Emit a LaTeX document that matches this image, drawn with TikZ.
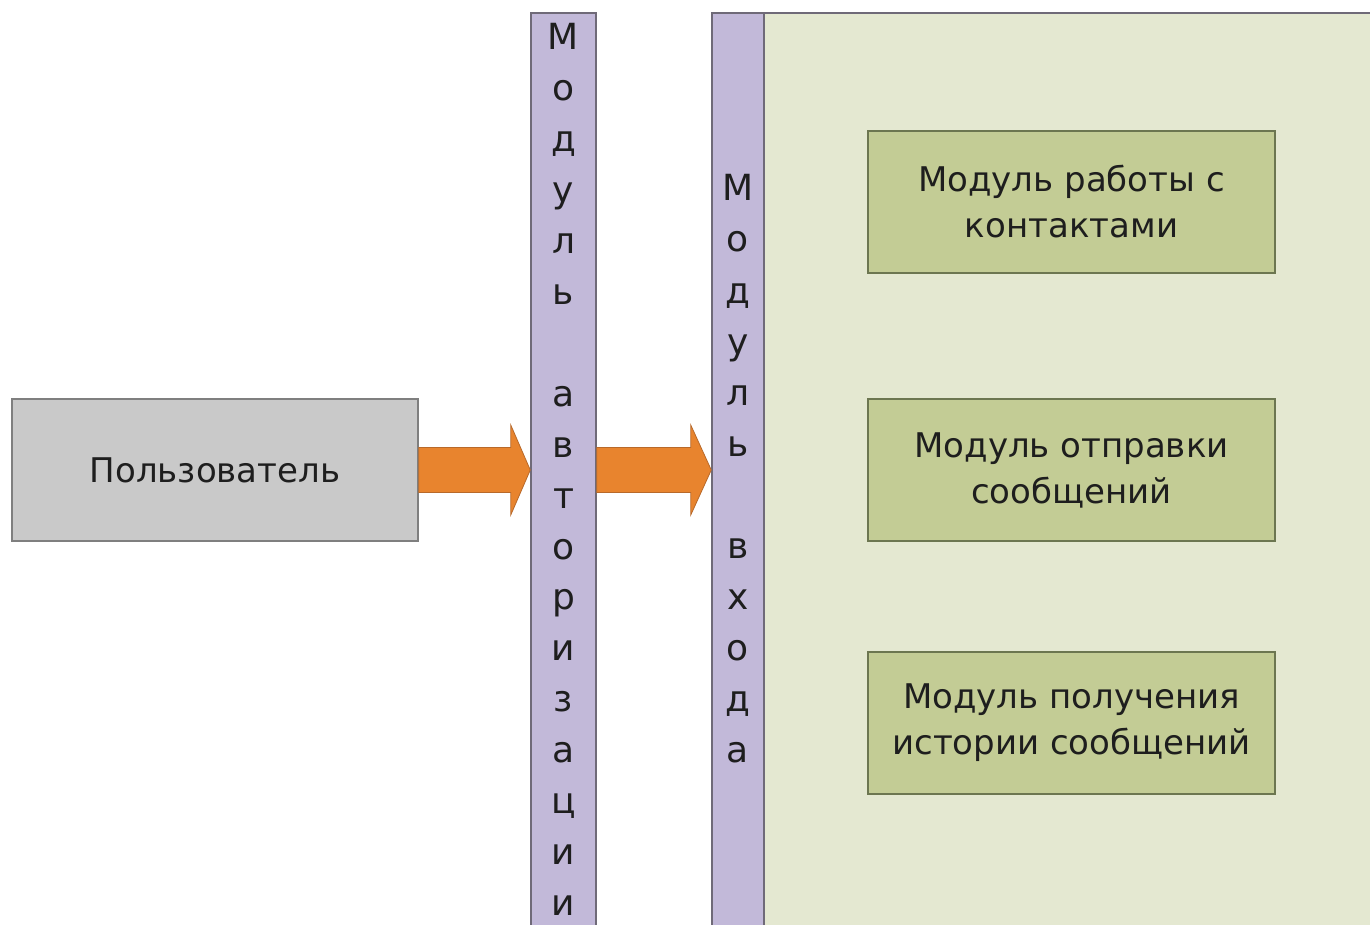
\documentclass[tikz,border=0pt]{standalone}
\usepackage{fontspec}
\setmainfont{DejaVu Sans}
\usetikzlibrary{calc}
\definecolor{usergray}{HTML}{C9C9C9}
\definecolor{userborder}{HTML}{7F7F7F}
\definecolor{lavender}{HTML}{C2B9D9}
\definecolor{lavborder}{HTML}{6F6A78}
\definecolor{panelgreen}{HTML}{E4E8D1}
\definecolor{boxgreen}{HTML}{C3CC95}
\definecolor{boxborder}{HTML}{6C7650}
\definecolor{arroworange}{HTML}{E8842E}
\definecolor{arrowborder}{HTML}{B8692A}
\definecolor{txt}{HTML}{1E1E1E}
\tikzset{
  userbox/.style={draw=userborder, fill=usergray, line width=1.5pt, minimum width=406pt, minimum height=142pt, inner sep=0pt, text=txt, font=\fontsize{34}{42}\selectfont},
  column/.style={draw=lavborder, fill=lavender, line width=1.5pt, inner sep=0pt},
  modbox/.style={draw=boxborder, fill=boxgreen, line width=1.5pt, minimum width=407pt, minimum height=142pt, inner sep=0pt, align=center, text=txt, font=\fontsize{34}{46}\selectfont},
  vletter/.style={anchor=base, inner sep=0pt, text=txt, font=\fontsize{36}{40}\selectfont},
  blockarrow/.style={fill=arroworange, draw=arrowborder, line width=0.8pt, line join=miter}
}
\begin{document}
\begin{tikzpicture}[x=1pt,y=-1pt]
\useasboundingbox (0,0) rectangle (1370,925);
\fill[white] (0,0) rectangle (1370,925);
% panel
\fill[panelgreen] (712,13) rectangle (1370,925);
\draw[lavborder, line width=1.5pt] (712,925) -- (712,13) -- (1370,13);
% columns
\node[column, minimum width=65pt, minimum height=914pt] (auth) at (563.5,470) {};
\node[column, minimum width=52pt, minimum height=914pt] (entry) at (738,470) {};
% user
\node[userbox] (user) at (215,470) {Пользователь};
% module boxes
\node[modbox] (contacts) at (1071.5,202) {Модуль работы с\\контактами};
\node[modbox] (send) at (1071.5,470) {Модуль отправки\\сообщений};
\node[modbox] (history) at (1071.5,723) {Модуль получения\\истории сообщений};
% vertical letters
\foreach \i/\ch in {0/М,1/о,2/д,3/у,4/л,5/ь,7/а,8/в,9/т,10/о,11/р,12/и,13/з,14/а,15/ц,16/и,17/и}
  \node[vletter] (a\i) at (563.5,{50+50.9*\i}) {\ch};
\foreach \i/\ch in {0/М,1/о,2/д,3/у,4/л,5/ь,7/в,8/х,9/о,10/д,11/а}
  \node[vletter] (e\i) at (738,{201+51*\i}) {\ch};
% block arrows
\draw[blockarrow] ($(user.east)+(0,-22.5)$) -- ($(user.east)+(92,-22.5)$) -- ($(user.east)+(92,-45)$)
  -- (auth.west |- user.east) -- ($(user.east)+(92,45)$) -- ($(user.east)+(92,22.5)$) -- ($(user.east)+(0,22.5)$) -- cycle;
\draw[blockarrow] ($(auth.east |- user.east)+(0,-22.5)$) -- ($(auth.east |- user.east)+(94,-22.5)$) -- ($(auth.east |- user.east)+(94,-45)$)
  -- (entry.west |- user.east) -- ($(auth.east |- user.east)+(94,45)$) -- ($(auth.east |- user.east)+(94,22.5)$) -- ($(auth.east |- user.east)+(0,22.5)$) -- cycle;
\end{tikzpicture}
\end{document}
